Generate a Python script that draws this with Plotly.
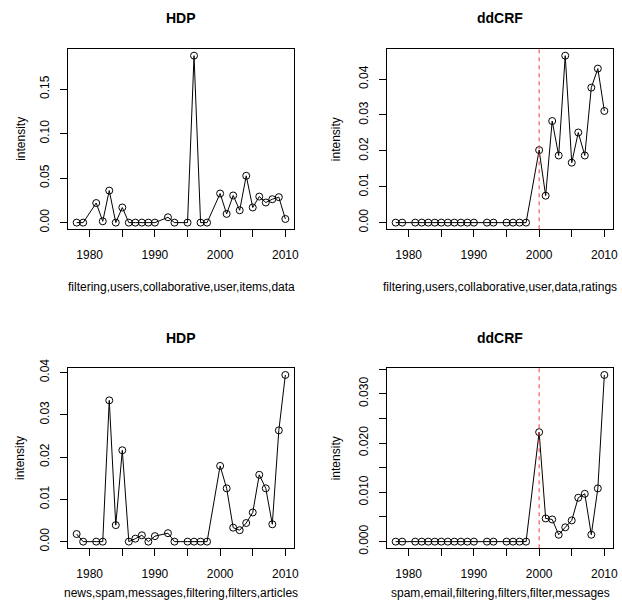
import plotly.graph_objects as go

W, H = 622, 608

years = [1978, 1979, 1981, 1982, 1983, 1984, 1985, 1986, 1987, 1988, 1989, 1990,
         1992, 1993, 1995, 1996, 1997, 1998, 2000, 2001, 2002, 2003, 2004, 2005,
         2006, 2007, 2008, 2009, 2010]

hdp_collab = [0, 0, 0.022, 0.0015, 0.036, 0, 0.017, 0, 0, 0, 0, 0,
              0.006, 0, 0, 0.1876, 0, 0, 0.0327, 0.0098, 0.0305, 0.0139, 0.0526, 0.017,
              0.0293, 0.0226, 0.0263, 0.0286, 0.0041]
ddcrf_collab = [0, 0, 0, 0, 0, 0, 0, 0, 0, 0, 0, 0,
                0, 0, 0, 0, 0, 0, 0.0202, 0.0075, 0.0283, 0.0187, 0.0465, 0.0167,
                0.0251, 0.0187, 0.0376, 0.0429, 0.0311]
hdp_spam = [0.0018, 0, 0, 0, 0.0334, 0.0039, 0.0216, 0, 0.0007, 0.0015, 0, 0.0013,
            0.002, 0, 0, 0, 0, 0, 0.0179, 0.0126, 0.0033, 0.0027, 0.0044, 0.0069,
            0.0158, 0.0126, 0.0041, 0.0263, 0.0394]
ddcrf_spam = [0, 0, 0, 0, 0, 0, 0, 0, 0, 0, 0, 0,
              0, 0, 0, 0, 0, 0, 0.0222, 0.0047, 0.0045, 0.0014, 0.0029, 0.0043,
              0.0089, 0.0097, 0.0014, 0.0108, 0.0338]

titles = ["HDP", "ddCRF", "HDP", "ddCRF"]
xlabels = ["filtering,users,collaborative,user,items,data",
           "filtering,users,collaborative,user,data,ratings",
           "news,spam,messages,filtering,filters,articles",
           "spam,email,filtering,filters,filter,messages"]
series = [hdp_collab, ddcrf_collab, hdp_spam, ddcrf_spam]
vline_year = 2000

xticks = [1980, 1985, 1990, 1995, 2000, 2005, 2010]
xticktext = ["1980", "", "1990", "", "2000", "", "2010"]

yticks = [
    ([0, 0.05, 0.10, 0.15], ["0.00", "0.05", "0.10", "0.15"]),
    ([0, 0.01, 0.02, 0.03, 0.04], ["0.00", "0.01", "0.02", "0.03", "0.04"]),
    ([0, 0.01, 0.02, 0.03, 0.04], ["0.00", "0.01", "0.02", "0.03", "0.04"]),
    ([0, 0.005, 0.010, 0.015, 0.020, 0.025, 0.030, 0.035],
     ["0.000", "", "0.010", "", "0.020", "", "0.030", ""]),
]

# panel boxes in pixels (left, right, top, bottom)
boxes = [(68.3, 293.7, 49, 229.3), (387.3, 612.7, 49, 229.3),
         (68.3, 293.7, 368.3, 548.3), (387.3, 612.7, 368.3, 548.3)]
title_y = [18, 18, 338, 338]
xlab_y = [287, 287, 593, 593]
ylab_x = [20.7, 336, 20.7, 336]

font = "Liberation Sans, Arial, Helvetica, sans-serif"
fig = go.Figure()
annotations = []
shapes = []

xmin, xmax = min(years), max(years)
xr = [xmin - 0.04 * (xmax - xmin), xmax + 0.04 * (xmax - xmin)]

for i in range(4):
    sfx = "" if i == 0 else str(i + 1)
    l, r, t, b = boxes[i]
    ys = series[i]
    ymin, ymax = min(ys), max(ys)
    yr = [ymin - 0.04 * (ymax - ymin), ymax + 0.04 * (ymax - ymin)]
    fig.add_trace(go.Scatter(
        x=years, y=ys, mode="lines+markers",
        line=dict(color="black", width=1),
        marker=dict(symbol="circle-open", size=7, color="black", line=dict(width=1, color="black")),
        xaxis="x" + sfx, yaxis="y" + sfx, showlegend=False, hoverinfo="x+y"))
    axstyle = dict(showline=True, linecolor="black", linewidth=1, mirror=True,
                   showgrid=False, zeroline=False, ticks="outside", ticklen=7,
                   tickcolor="black", tickwidth=1, automargin=False,
                   tickfont=dict(family=font, size=12, color="black"))
    fig.update_layout(**{
        "xaxis" + sfx: dict(domain=[l / W, r / W], range=xr, tickvals=xticks,
                            ticktext=xticktext, anchor="y" + sfx,
                            ticklabelstandoff=7, **axstyle),
        "yaxis" + sfx: dict(domain=[1 - b / H, 1 - t / H], range=yr,
                            tickvals=yticks[i][0], ticktext=yticks[i][1],
                            tickangle=-90, anchor="x" + sfx,
                            ticklabelstandoff=7, **axstyle),
    })
    cx = (l + r) / 2 / W
    annotations.append(dict(text="<b>" + titles[i] + "</b>", x=cx, y=1 - title_y[i] / H,
                            xref="paper", yref="paper", showarrow=False,
                            xanchor="center", yanchor="middle",
                            font=dict(family=font, size=14, color="black")))
    annotations.append(dict(text=xlabels[i], x=cx, y=1 - xlab_y[i] / H,
                            xref="paper", yref="paper", showarrow=False,
                            xanchor="center", yanchor="middle",
                            font=dict(family=font, size=12, color="black")))
    annotations.append(dict(text="intensity", x=ylab_x[i] / W, y=1 - (t + b) / 2 / H,
                            xref="paper", yref="paper", showarrow=False, textangle=-90,
                            xanchor="center", yanchor="middle",
                            font=dict(family=font, size=12, color="black")))
    if titles[i] == "ddCRF":
        shapes.append(dict(type="line", xref="x" + sfx, yref="y" + sfx + " domain",
                           x0=vline_year, x1=vline_year, y0=0, y1=1,
                           line=dict(color="#ff3030", width=1, dash="4px,4px")))

fig.update_layout(template="none", width=W, height=H, margin=dict(l=0, r=0, t=0, b=0),
                  paper_bgcolor="white", plot_bgcolor="white",
                  annotations=annotations, shapes=shapes,
                  font=dict(family=font, size=12, color="black"))

fig.write_html("out.html", config={"displayModeBar": False},
               post_script="document.documentElement.style.overflow='hidden';"
                           "document.body.style.margin='0';"
                           "document.body.style.overflow='hidden';")
